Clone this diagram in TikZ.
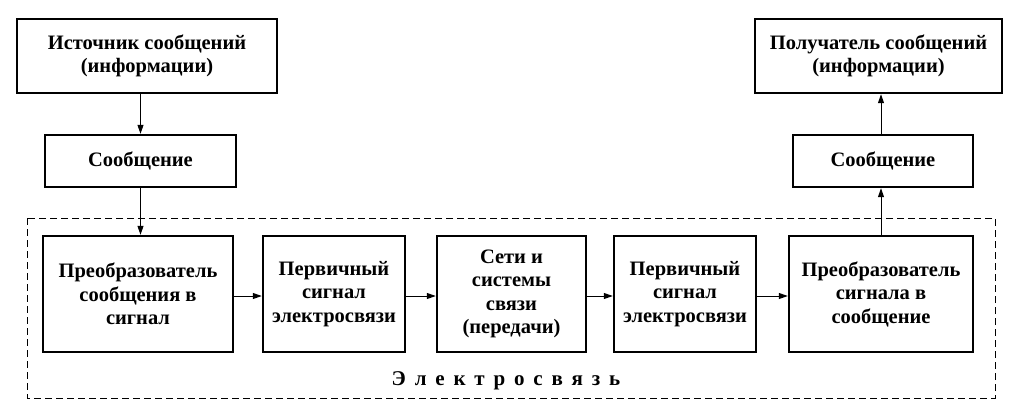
\documentclass[tikz,border=0pt]{standalone}
\usepackage{fontspec}
\setmainfont{Liberation Serif}
\usetikzlibrary{arrows.meta}
\begin{document}
\begin{tikzpicture}[x=1pt,y=-1pt,
  bx/.style={draw,line width=2.4pt,align=center,font=\bfseries\fontsize{20.5}{23.5}\selectfont,inner sep=0pt},
  ar/.style={-{Triangle[length=9pt,width=6pt]},line width=1pt}]
\useasboundingbox (0,0) rectangle (1010,416);
\node[bx,minimum width=260,minimum height=74] (src) at (147,56) {Источник сообщений\\(информации)};
\node[bx,minimum width=191,minimum height=52] (m1) at (140.5,161) {Сообщение};
\node[bx,minimum width=247,minimum height=74] (dst) at (878.5,56) {Получатель сообщений\\(информации)};
\node[bx,minimum width=180,minimum height=52] (m2) at (883,161) {Сообщение};
\draw[line width=1pt,dash pattern=on 7pt off 4pt] (27,218) rectangle (995,398);
\node[bx,minimum width=190,minimum height=116] (b1) at (138,294) {Преобразователь\\сообщения в\\сигнал};
\node[bx,minimum width=142,minimum height=116] (b2) at (334,294) {Первичный\\сигнал\\электросвязи};
\node[bx,minimum width=149,minimum height=116] (b3) at (511.5,294) {Сети и\\системы\\связи\\(передачи)};
\node[bx,minimum width=142,minimum height=116] (b4) at (685,294) {Первичный\\сигнал\\электросвязи};
\node[bx,minimum width=184,minimum height=116] (b5) at (881,294) {Преобразователь\\сигнала в\\сообщение};
\node[font=\bfseries\fontsize{21}{24}\selectfont] (el) at (506,381) {Э\hspace{0.42em}л\hspace{0.42em}е\hspace{0.42em}к\hspace{0.42em}т\hspace{0.42em}р\hspace{0.42em}о\hspace{0.42em}с\hspace{0.42em}в\hspace{0.42em}я\hspace{0.42em}з\hspace{0.42em}ь};
\draw[ar] (src.south -| m1.north) -- (m1.north);
\draw[ar] (m1.south) -- (m1.south |- b1.north);
\draw[ar] (b1.east |- 0,296) -- (b2.west |- 0,296);
\draw[ar] (b2.east |- 0,296) -- (b3.west |- 0,296);
\draw[ar] (b3.east |- 0,296) -- (b4.west |- 0,296);
\draw[ar] (b4.east |- 0,296) -- (b5.west |- 0,296);
\draw[ar] (b5.north) -- (b5.north |- m2.south);
\draw[ar] (m2.north -| b5.north) -- (b5.north |- dst.south);
\end{tikzpicture}
\end{document}
